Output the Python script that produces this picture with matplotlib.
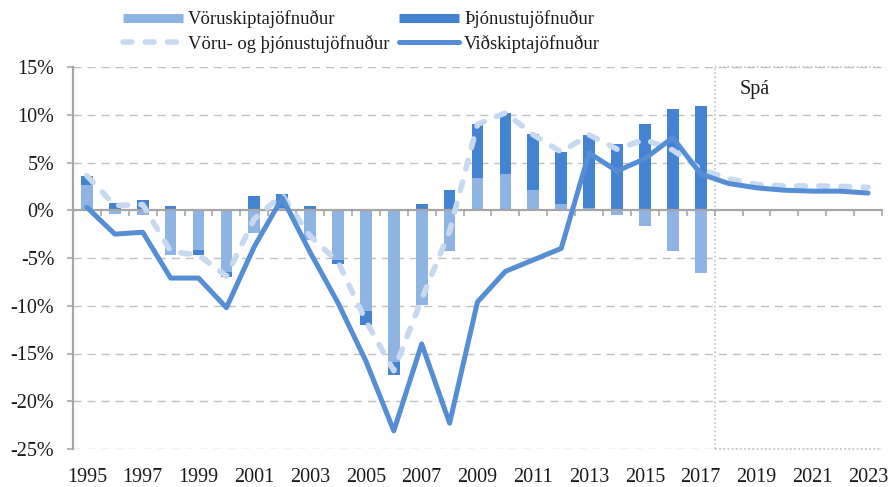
import numpy as np
import matplotlib
matplotlib.use("Agg")
import matplotlib.pyplot as plt
from matplotlib.lines import Line2D

# ---------------- data ----------------
years = list(range(1995, 2024))
goods_balance = [2.6, -0.35, -0.5, -4.7, -4.2, -6.5, -2.4, 0.2, -3.1, -5.2,
                 -10.6, -15.9, -9.9, -4.3, 3.4, 3.8, 2.15, 0.7, 0.25, -0.5,
                 -1.6, -4.3, -6.55]
services_balance = [0.95, 0.8, 1.1, 0.45, -0.5, -0.45, 1.45, 1.5, 0.45, -0.4,
                    -1.4, -1.4, 0.65, 2.1, 5.6, 6.4, 5.8, 5.4, 7.65, 6.9,
                    9.0, 10.6, 10.9]
goods_services_balance = [3.6, 0.5, 0.6, -4.3, -4.7, -6.9, -0.9, 1.6, -2.7, -5.4,
                          -11.6, -16.8, -9.3, -2.2, 9.0, 10.2, 7.9, 6.1, 7.9, 6.4,
                          7.4, 6.3, 4.3, 3.3, 2.7, 2.55, 2.55, 2.5, 2.4]
current_account = [0.3, -2.5, -2.3, -7.1, -7.1, -10.2, -3.8, 1.3, -4.4, -9.7,
                   -15.8, -23.1, -14.0, -22.3, -9.6, -6.4, -5.2, -4.0, 6.0, 4.1,
                   5.4, 7.6, 3.8, 2.8, 2.35, 2.1, 2.0, 2.0, 1.8]
ytick_values = [15, 10, 5, 0, -5, -10, -15, -20, -25]
ytick_labels = ["15%", "10%", "5%", "0%", "-5%", "-10%", "-15%", "-20%", "-25%"]
xtick_years = list(range(1995, 2024, 2))
xtick_labels = [str(y) for y in xtick_years]
forecast_first_year = 2018
forecast_label = "Spá"
legend_labels = ["Vöruskiptajöfnuður", "Vöru- og þjónustujöfnuður",
                 "Þjónustujöfnuður", "Viðskiptajöfnuður"]

# ---------------- style ----------------
LIGHT = "#8EB4E3"
DARK = "#4482D2"
SOLID = "#558ED5"
DASHC = "#C6D9F1"
GRID = "#C0C0C0"
AXC = "#A6A6A6"
TXT = "#1a1a1a"
FS = 14.5
LFS = 13.4

plt.rcParams["font.family"] = ["Liberation Serif", "DejaVu Serif"]

W, H = 888, 487
fig = plt.figure(figsize=(W / 100, H / 100), dpi=100)
ax = fig.add_axes([73 / W, 1 - 449 / H, (882 - 73) / W, (449 - 67) / H])

x_hist = np.array(years[:len(goods_balance)])
g = np.array(goods_balance)
s = np.array(services_balance)
s_bottom = np.where(np.sign(g) == np.sign(s), g, 0.0)

ax.bar(x_hist, g, width=0.42, color=LIGHT, zorder=2)
ax.bar(x_hist, s, bottom=s_bottom, width=0.42, color=DARK, zorder=2)

ax.plot(years, goods_services_balance, color=DASHC, lw=4.0,
        linestyle=(0, (1.6, 2.4)), dash_capstyle="round", zorder=3)
ax.plot(years, current_account, color=SOLID, lw=3.6,
        solid_joinstyle="round", solid_capstyle="round", zorder=4)

ax.set_xlim(years[0] - 0.5, years[-1] + 0.5)
ax.set_ylim(ytick_values[-1], ytick_values[0])

# grid
for v in ytick_values:
    if v != 0:
        ax.axhline(v, color=GRID, lw=1.0, linestyle=(0, (5.8, 4.3)), zorder=1)

# forecast box (dotted)
fx = forecast_first_year - 0.5
ax.plot([fx, fx], [ytick_values[-1], ytick_values[0]], color=GRID, lw=1.2,
        linestyle=(0, (1, 1.5)), zorder=1)
ax.plot([fx, years[-1] + 0.5], [ytick_values[0], ytick_values[0]], color=GRID,
        lw=1.2, linestyle=(0, (1, 1.5)), zorder=1, clip_on=False)
ax.plot([fx, years[-1] + 0.5], [ytick_values[-1], ytick_values[-1]], color=GRID,
        lw=1.2, linestyle=(0, (1, 1.5)), zorder=1, clip_on=False)
ax.text(forecast_first_year + 0.4, 12.6, forecast_label, fontsize=FS, color=TXT,
        ha="left", va="center")

# spines
for sp in ["top", "right"]:
    ax.spines[sp].set_visible(False)
ax.spines["left"].set_color(AXC)
ax.spines["left"].set_linewidth(1.6)
ax.spines["bottom"].set_position(("data", 0))
ax.spines["bottom"].set_color(AXC)
ax.spines["bottom"].set_linewidth(1.6)
ax.spines["bottom"].set_zorder(2.5)

# x category boundary ticks on the zero line
bounds = np.arange(years[0] - 0.5, years[-1] + 1.0, 1.0)
ax.set_xticks(bounds)
ax.set_xticklabels([])
ax.tick_params(axis="x", direction="out", length=4, width=1.2, color=AXC)

# y ticks
ax.set_yticks(ytick_values)
ax.set_yticklabels(ytick_labels)
ax.tick_params(axis="y", direction="out", length=4, width=1.2, color=AXC,
               labelsize=FS, labelcolor=TXT, pad=9.5)

# year labels at bottom
sec = ax.secondary_xaxis("bottom")
sec.set_xticks(xtick_years)
sec.set_xticklabels(xtick_labels)
sec.tick_params(axis="x", length=0, labelsize=FS, labelcolor=TXT, pad=14)
sec.spines["bottom"].set_visible(False)

# legend
handles = [
    Line2D([0], [0], color=LIGHT, lw=6.5, solid_capstyle="butt"),
    Line2D([0], [0], color=DASHC, lw=4.0, linestyle=(0, (1.6, 2.4)),
           dash_capstyle="round"),
    Line2D([0], [0], color=DARK, lw=6.5, solid_capstyle="butt"),
    Line2D([0], [0], color=SOLID, lw=3.6, solid_capstyle="round"),
]
fig.legend(handles, legend_labels, ncol=2, loc="upper left",
           bbox_to_anchor=(123 / W, 1 - 10 / H), frameon=False, fontsize=LFS,
           handlelength=3.2, handletextpad=0.3, columnspacing=0.5,
           labelspacing=0.35, borderpad=0, borderaxespad=0,
           labelcolor=TXT)

fig.savefig("out.png", dpi=100)
